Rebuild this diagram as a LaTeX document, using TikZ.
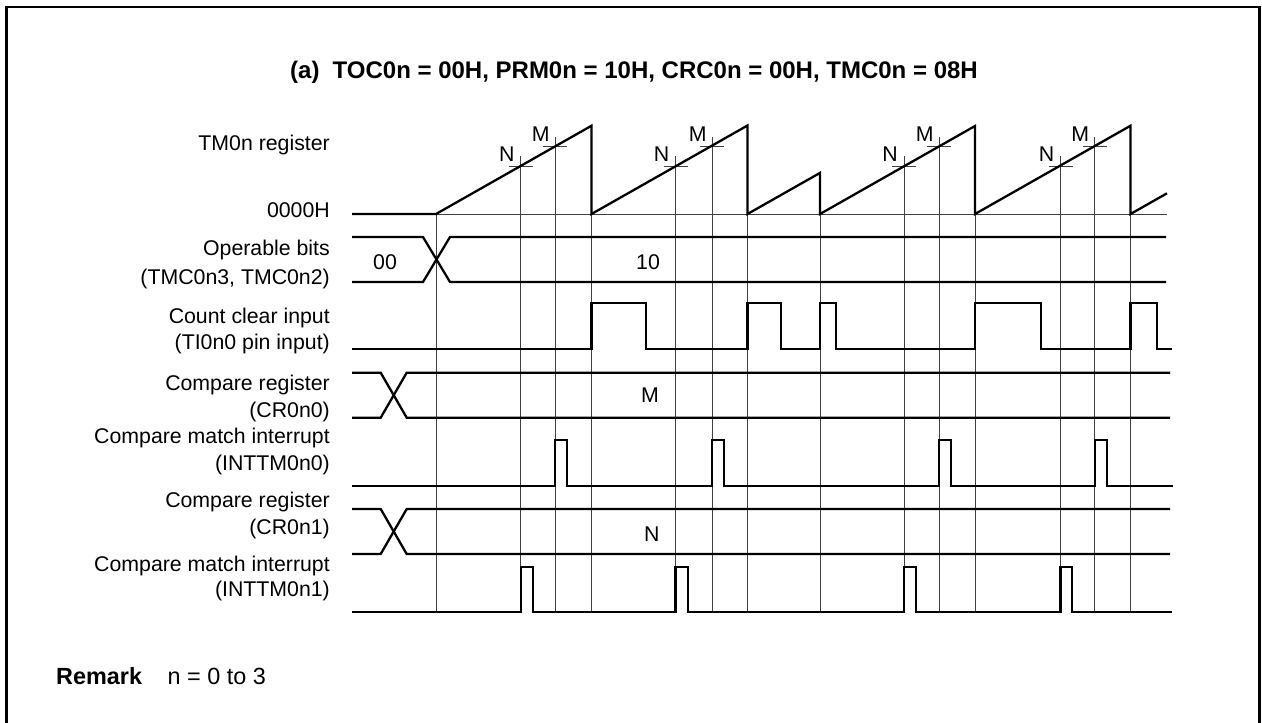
\documentclass[tikz,border=0pt]{standalone}
\usepackage{fontspec}
\setmainfont{Liberation Sans}
\begin{document}
\begin{tikzpicture}[x=1pt,y=-1pt,
  sig/.style={line width=2.3pt, line join=miter, line cap=butt},
  grid/.style={line width=0.9pt, black!75},
  frame/.style={line width=2.3pt},
  lbl/.style={font=\fontsize{21.3}{25}\selectfont, inner sep=0pt, anchor=base east},
  val/.style={font=\fontsize{21.3}{25}\selectfont, inner sep=0pt, anchor=base},
  tickl/.style={font=\fontsize{21.3}{25}\selectfont, inner sep=0pt, anchor=south east},
]
\useasboundingbox (0,0) rectangle (1262,723);
% frame (open at bottom)
\draw[frame] (6.5,730) -- (6.5,7) -- (1259.5,7) -- (1259.5,730);

% title
\node[font=\fontsize{24}{28}\selectfont\bfseries, inner sep=0pt, anchor=base west] (title) at (290,78)
  {(a)\hspace{0.55em}TOC0n = 00H, PRM0n = 10H, CRC0n = 00H, TMC0n = 08H};

% left labels
\node[lbl] (l1)  at (330,150)   {TM0n register};
\node[lbl] (l2)  at (330,217.3) {0000H};
\node[lbl] (l3)  at (330,255)   {Operable bits};
\node[lbl] (l4)  at (330,284)   {(TMC0n3, TMC0n2)};
\node[lbl] (l5)  at (330,323.3) {Count clear input};
\node[lbl] (l6)  at (330,349.3) {(TI0n0 pin input)};
\node[lbl] (l7)  at (330,390)   {Compare register};
\node[lbl] (l8)  at (330,417.3) {(CR0n0)};
\node[lbl] (l9)  at (330,443.3) {Compare match interrupt};
\node[lbl] (l10) at (330,470)   {(INTTM0n0)};
\node[lbl] (l11) at (330,507.3) {Compare register};
\node[lbl] (l12) at (330,534)   {(CR0n1)};
\node[lbl] (l13) at (330,571.7) {Compare match interrupt};
\node[lbl] (l14) at (330,596.7) {(INTTM0n1)};

% remark
\node[font=\fontsize{23.4}{27}\selectfont\bfseries, inner sep=0pt, anchor=base west] (rem) at (56,684) {Remark};
\node[font=\fontsize{23.4}{27}\selectfont, inner sep=0pt, anchor=base west] (remtxt) at (167.5,684) {n = 0 to 3};

% thin grid verticals
\foreach \x/\y in {436/214, 591.5/126, 747.5/126, 820/173, 975/126, 1130.5/126}
  \draw[grid] (\x,\y) -- (\x,612);
\foreach \x in {520.7, 675.5, 904, 1060.5} {
  \draw[grid] (\x,156) -- (\x,612);
  \draw[grid] (\x-12,166) -- (\x+12,166);
  \node[tickl] at (\x-6,161.5) {N};
}
\foreach \x in {555.3, 712.3, 939.3, 1094.8} {
  \draw[grid] (\x,136.5) -- (\x,612);
  \draw[grid] (\x-12,146) -- (\x+12,146);
  \node[tickl] at (\x-5.5,142) {M};
}
% baseline
\draw[grid] (436,214) -- (1167,214);

% TM0n counter
\draw[sig] (352,214) -- (436,214) -- (591.5,125.75) -- (591.5,214) -- (747.5,125.5) -- (747.5,214)
  -- (820,172.9) -- (820,214) -- (975,126) -- (975,214) -- (1130.5,125.75) -- (1130.5,214) -- (1167,193.3);

% operable bits
\draw[sig] (352,237) -- (423,237) -- (450,282) -- (1166,282);
\draw[sig] (352,282) -- (423,282) -- (450,237) -- (1166,237);
\node[val] (v00) at (385,269.5) {00};
\node[val] (v10) at (648,269.5) {10};

% count clear input
\draw[sig] (352,349) -- (591.5,349) -- (591.5,303.3) -- (646,303.3) -- (646,349) -- (747.5,349) -- (747.5,303.3)
  -- (780.7,303.3) -- (780.7,349) -- (820,349) -- (820,303.3) -- (836,303.3) -- (836,349) -- (975,349)
  -- (975,303.3) -- (1040.7,303.3) -- (1040.7,349) -- (1130.5,349) -- (1130.5,303.3) -- (1156.7,303.3)
  -- (1156.7,349) -- (1172,349);

% CR0n0
\draw[sig] (352,372.7) -- (380.7,372.7) -- (406.7,417.7) -- (1170,417.7);
\draw[sig] (352,417.7) -- (380.7,417.7) -- (406.7,372.7) -- (1170,372.7);
\node[val] (vM) at (650,402.5) {M};

% INTTM0n0
\draw[sig] (352,485.7) -- (555.3,485.7) -- (555.3,440) -- (567.3,440) -- (567.3,485.7)
  -- (712.3,485.7) -- (712.3,440) -- (724.3,440) -- (724.3,485.7)
  -- (939.3,485.7) -- (939.3,440) -- (951.3,440) -- (951.3,485.7)
  -- (1094.8,485.7) -- (1094.8,440) -- (1106.8,440) -- (1106.8,485.7) -- (1172.5,485.7);

% CR0n1
\draw[sig] (352,509) -- (380.7,509) -- (406.7,554) -- (1170,554);
\draw[sig] (352,554) -- (380.7,554) -- (406.7,509) -- (1170,509);
\node[val] (vN) at (651.7,541.5) {N};

% INTTM0n1
\draw[sig] (352,611.7) -- (520.7,611.7) -- (520.7,566.7) -- (533.2,566.7) -- (533.2,611.7)
  -- (675.5,611.7) -- (675.5,566.7) -- (688,566.7) -- (688,611.7)
  -- (904,611.7) -- (904,566.7) -- (916,566.7) -- (916,611.7)
  -- (1060.5,611.7) -- (1060.5,566.7) -- (1072,566.7) -- (1072,611.7) -- (1172,611.7);
\end{tikzpicture}
\end{document}
